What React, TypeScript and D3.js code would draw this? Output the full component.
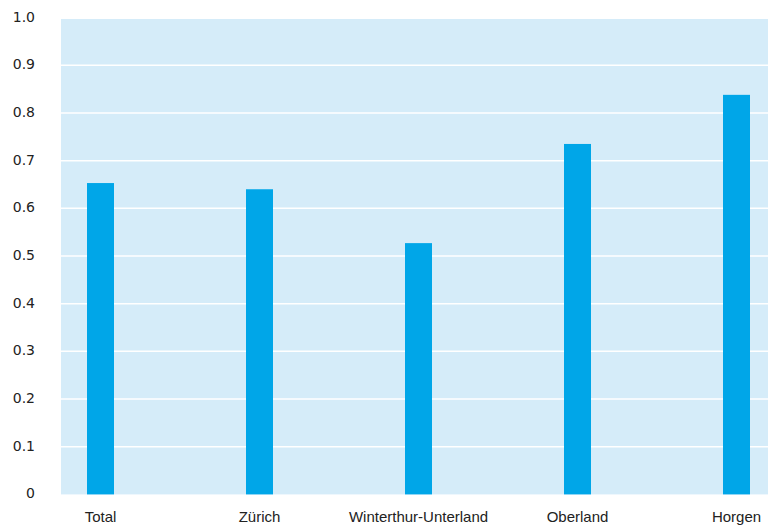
import React from "react";
import * as d3 from "d3";

const categories = ["Total", "Zürich", "Winterthur-Unterland", "Oberland", "Horgen"];
const values = [0.653, 0.640, 0.527, 0.735, 0.838];
const yTicks = [0, 0.1, 0.2, 0.3, 0.4, 0.5, 0.6, 0.7, 0.8, 0.9, 1.0];

const W = 768;
const H = 526;

export default function App() {
  const plotLeft = 61;
  const plotRight = 768;
  const y = d3.scaleLinear().domain([0, 1]).range([494.4, 17.6]);
  const x = d3.scalePoint<string>().domain(categories).range([100.5, 736.5]);
  const barW = 27;
  const fmt = (v: number) => (v === 0 ? "0" : d3.format(".1f")(v));
  return (
    <svg
      width={W}
      height={H}
      style={{ position: "fixed", left: 0, top: 0, background: "#fff" }}
    >
      <rect
        x={plotLeft}
        y={19}
        width={plotRight - plotLeft}
        height={y(0) - 19}
        fill="#d5ecf9"
      />
      {yTicks.slice(1, -1).map((t) => (
        <line
          key={"g" + t}
          x1={plotLeft}
          x2={plotRight}
          y1={y(t)}
          y2={y(t)}
          stroke="#ffffff"
          strokeWidth={1.5}
        />
      ))}
      {categories.map((c, i) => (
        <rect
          key={c}
          x={(x(c) as number) - barW / 2}
          y={y(values[i])}
          width={barW}
          height={y(0) - y(values[i])}
          fill="#00a6e8"
        />
      ))}
      {yTicks.map((t) => (
        <text
          key={"t" + t}
          x={35}
          y={y(t)}
          textAnchor="end"
          dominantBaseline="middle"
          fontFamily="'DejaVu Sans', sans-serif"
          fontSize={14}
          fill="#222"
        >
          {fmt(t)}
        </text>
      ))}
      {categories.map((c) => (
        <text
          key={"l" + c}
          x={x(c) as number}
          y={522}
          textAnchor="middle"
          fontFamily="'Liberation Sans', Arial, sans-serif"
          fontSize={15}
          fill="#222"
        >
          {c}
        </text>
      ))}
    </svg>
  );
}
